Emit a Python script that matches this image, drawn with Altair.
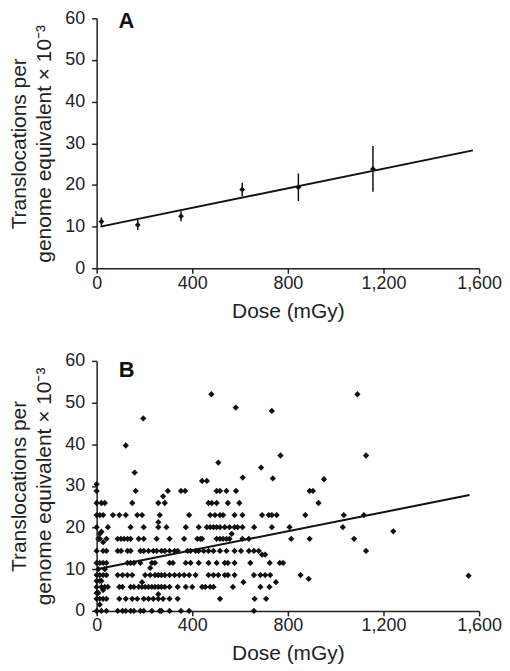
import altair as alt
import pandas as pd

FONT = "Liberation Sans"

# ---------------- Panel A: group means with error bars ----------------
a_dose = [20, 172, 353, 609, 844, 1156]
a_mean = [11.2, 10.4, 12.5, 18.9, 19.45, 23.85]
a_err = [1.0, 1.2, 1.2, 1.6, 3.3, 5.5]
a_fit_dose = [16, 1574]
a_fit_val = [10.0, 28.3]

# ---------------- Panel B: individual subjects ----------------
levels = [0.0, 2.9, 5.75, 8.6, 11.5, 14.4, 17.3, 20.1, 23.0, 25.9, 28.8]
row_0 = [0, 20, 41, 88, 108, 122, 142, 156, 183, 197, 231, 264, 271, 305, 353, 387, 658]
row_1 = [0, 13, 27, 41, 95, 122, 149, 170, 197, 217, 237, 258, 278, 305, 339, 516, 661, 709]
row_2 = [0, 20, 34, 47, 95, 108, 142, 156, 176, 190, 203, 217, 231, 244, 258, 271, 285,
         305, 339, 373, 400, 441, 455, 475, 489, 570, 685, 723]
row_3 = [0, 13, 27, 41, 88, 108, 129, 149, 203, 224, 244, 258, 271, 285, 305, 326, 346,
         366, 387, 414, 468, 489, 509, 536, 549, 577, 658, 685, 705, 726, 853]
row_4 = [0, 13, 27, 41, 129, 142, 156, 183, 231, 244, 305, 319, 373, 393, 427, 468, 502,
         536, 549, 577, 643, 724, 766, 780]
row_5 = [0, 27, 41, 88, 102, 129, 142, 183, 197, 217, 237, 251, 271, 285, 305, 326, 339,
         380, 393, 414, 427, 448, 468, 489, 516, 543, 577, 604, 637, 658, 678, 1127]
row_6 = [7, 13, 41, 88, 102, 115, 129, 142, 176, 197, 251, 305, 366, 421, 434, 441, 502,
         516, 529, 543, 556, 610, 637, 814, 891, 1077]
row_7 = [0, 47, 142, 197, 258, 292, 373, 427, 461, 475, 489, 502, 516, 536, 556, 577, 590,
         610, 659, 733, 807, 1030]
row_8 = [0, 13, 27, 68, 95, 122, 170, 190, 264, 387, 475, 495, 516, 529, 577, 610, 692,
         720, 733, 753, 873, 1034, 1118]
row_9 = [0, 20, 34, 149, 258, 285, 468, 482, 502, 549, 597, 928]
row_10 = [0, 163, 298, 353, 370, 502, 516, 543, 583, 891, 905]
rows = [row_0, row_1, row_2, row_3, row_4, row_5, row_6, row_7, row_8, row_9, row_10]

extra_dose = [0, 441, 461, 611, 737, 951, 480, 582, 733, 195, 122, 1091, 1127, 509, 688,
              769, 159, 1241, 1556, 887, 258, 190, 614, 750, 7, 20, 34, 224, 692, 705,
              13, 20, 27, 565, 258, 278, 7, 13, 27, 0, 0, 13]
extra_val = [30.4, 31.2, 31.2, 32.0, 31.8, 31.6, 52.0, 48.8, 48.0, 46.2, 39.7, 52.0, 37.3,
             35.6, 34.4, 37.3, 33.2, 19.1, 8.45, 7.7, 4.0, 6.9, 6.9, 6.9, 10.0, 7.2, 10.0,
             10.3, 13.5, 13.5, 18.5, 19.0, 16.5, 18.5, 21.3, 27.5, 4.3, 7.2, 5.0, 7.2, 4.3, 1.5]

b_fit_dose = [0, 1560]
b_fit_val = [10.0, 27.8]

x_ticks = [0, 400, 800, 1200, 1600]
y_ticks = [0, 10, 20, 30, 40, 50, 60]
y_title = ["Translocations per", "genome equivalent \u00d7 10\u207b\u00b3"]
panel_letters = ["A", "B"]
letter_dose = [125, 126]
letter_val = [59.4, 57.7]

# ---------------- build tables ----------------
a_df = pd.DataFrame({"dose": a_dose, "val": a_mean,
                     "lo": [m - e for m, e in zip(a_mean, a_err)],
                     "hi": [m + e for m, e in zip(a_mean, a_err)]})
a_fit = pd.DataFrame({"dose": a_fit_dose, "val": a_fit_val})

b_d, b_v = [], []
for lev, r in zip(levels, rows):
    b_d += r
    b_v += [lev] * len(r)
b_d += extra_dose
b_v += extra_val
b_df = pd.DataFrame({"dose": b_d, "val": b_v})
b_fit = pd.DataFrame({"dose": b_fit_dose, "val": b_fit_val})

W, H = 384, 251

xs = alt.Scale(domain=[0, 1600], nice=False)
ys = alt.Scale(domain=[0, 60], nice=False)
x_enc = alt.X("dose:Q", scale=xs,
              axis=alt.Axis(values=x_ticks, format=",d", title="Dose (mGy)",
                            labelFlush=False, labelPadding=1, titlePadding=8))
y_enc = alt.Y("val:Q", scale=ys,
              axis=alt.Axis(values=y_ticks, title=y_title, labelPadding=7,
                            titlePadding=10, titleLineHeight=25))


def letter_layer(i):
    df = pd.DataFrame({"dose": [letter_dose[i]], "val": [letter_val[i]],
                       "t": [panel_letters[i]]})
    return alt.Chart(df).mark_text(font=FONT, fontSize=22, fontWeight="bold",
                                   align="center", baseline="middle",
                                   color="#111").encode(
        x=alt.X("dose:Q", scale=xs), y=alt.Y("val:Q", scale=ys), text="t:N")


pts_a = alt.Chart(a_df).mark_point(shape="diamond", filled=True, size=34,
                                   color="#111", opacity=1).encode(x=x_enc, y=y_enc)
err_a = alt.Chart(a_df).mark_rule(color="#111", strokeWidth=1.5).encode(
    x=alt.X("dose:Q", scale=xs), y=alt.Y("lo:Q", scale=ys), y2="hi:Q")
fit_a = alt.Chart(a_fit).mark_line(color="#111", strokeWidth=2).encode(
    x=alt.X("dose:Q", scale=xs), y=alt.Y("val:Q", scale=ys))
panel_a = alt.layer(pts_a, err_a, fit_a, letter_layer(0)).properties(width=W, height=H)

pts_b = alt.Chart(b_df).mark_point(shape="diamond", filled=True, size=40,
                                   color="#111", opacity=1).encode(x=x_enc, y=y_enc)
fit_b = alt.Chart(b_fit).mark_line(color="#111", strokeWidth=2).encode(
    x=alt.X("dose:Q", scale=xs), y=alt.Y("val:Q", scale=ys))
panel_b = alt.layer(pts_b, fit_b, letter_layer(1)).properties(width=W, height=H)

chart = alt.vconcat(panel_a, panel_b, spacing=31).properties(
    padding={"left": 0, "top": 0, "right": 0, "bottom": 0}
).configure_view(stroke=None).configure_axis(
    grid=False, domainColor="#222", tickColor="#222", domainWidth=1.5, tickWidth=1.5,
    tickSize=5, labelColor="#222", titleColor="#222", labelFont=FONT, titleFont=FONT,
    labelFontSize=18, titleFontSize=21, titleFontWeight="normal",
)

chart.save("out.html", embed_options={"renderer": "svg", "actions": False})
